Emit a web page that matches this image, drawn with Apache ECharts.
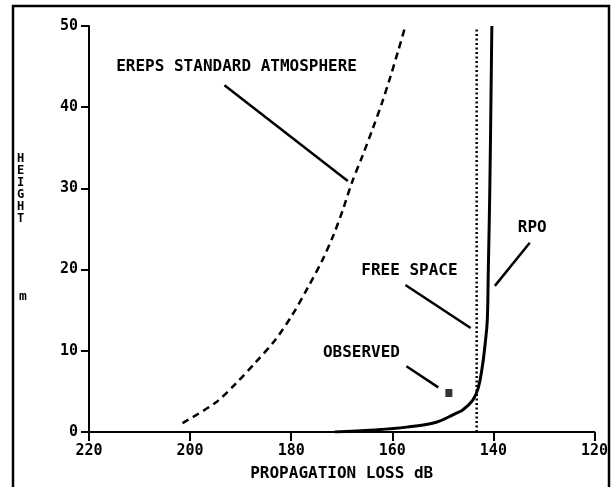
<!DOCTYPE html>
<html>
<head>
<meta charset="utf-8">
<script src="https://cdn.jsdelivr.net/npm/echarts@6/dist/echarts.min.js"></script>
<style>html,body{margin:0;padding:0;background:#fff}#c{width:611px;height:487px}</style>
</head>
<body>
<div id="c"></div>
<script>
// ---- data (x = propagation loss dB, y = height m) ----
const xTicks = [220, 200, 180, 160, 140, 120];
const yTicks = [0, 10, 20, 30, 40, 50];

const erepsLoss   = [201.5, 195.0, 190.9, 187.0, 183.2, 179.8, 176.6, 173.8, 171.6, 169.7, 168.0, 165.9, 163.9, 162.0, 160.3, 158.8, 157.4];
const erepsHeight = [1.1,   3.6,   6.0,   8.6,   11.3,  14.4,  17.9,  21.2,  24.3,  27.5,  30.7,  34.0,  37.3,  40.6,  43.9,  47.0,  50.0];

const rpoLoss   = [171.4, 163.6, 157.2, 151.3, 147.4, 146.1, 144.1, 143.0, 142.2, 141.6, 141.2, 141.0, 140.7, 140.3];
const rpoHeight = [0,     0.25,  0.6,   1.2,   2.3,   2.7,   3.9,   5.4,   8.0,   11.0,  13.8,  20.0,  30.0,  50.0];

const freeSpaceLoss   = [143.3, 143.3];
const freeSpaceHeight = [0, 49.8];

const observedLoss   = [148.8];
const observedHeight = [4.8];

// annotations: [text, loss, height] and leaders [loss1,h1,loss2,h2]
const noteTexts = ['EREPS STANDARD ATMOSPHERE', 'RPO', 'FREE SPACE', 'OBSERVED'];
const noteAt    = [[190.8, 44.95], [132.3, 25.1], [156.6, 19.8], [166.1, 9.7]];
const leaders   = [[193.2, 42.7, 168.8, 30.9], [132.8, 23.3, 139.7, 18.0], [157.4, 18.1, 144.5, 12.8], [157.2, 8.1, 150.9, 5.5]];

const zip = (a, b) => a.map((v, i) => [v, b[i]]);
const FONT = 'DejaVu Sans Mono';

const chart = echarts.init(document.getElementById('c'), null, {renderer: 'canvas'});
chart.setOption({
  animation: false,
  backgroundColor: '#ffffff',
  grid: {left: 89, right: 7, top: 26, bottom: 55, containLabel: false},
  xAxis: {
    type: 'value', inverse: true, min: 120, max: 220, interval: 20,
    name: 'PROPAGATION LOSS dB', nameLocation: 'middle', nameGap: 34,
    nameTextStyle: {color: '#000', fontFamily: FONT, fontWeight: 'bold', fontSize: 16},
    axisLine: {show: true, lineStyle: {color: '#000', width: 2}},
    axisTick: {show: true, inside: false, length: 9, lineStyle: {color: '#000', width: 2}},
    axisLabel: {color: '#000', fontFamily: FONT, fontWeight: 'bold', fontSize: 15, margin: 12,
      formatter: v => xTicks.includes(v) ? String(v) : ''},
    splitLine: {show: false}
  },
  yAxis: {
    type: 'value', min: 0, max: 50, interval: 10,
    axisLine: {show: true, lineStyle: {color: '#000', width: 2}},
    axisTick: {show: true, length: 8, lineStyle: {color: '#000', width: 2}},
    axisLabel: {color: '#000', fontFamily: FONT, fontWeight: 'bold', fontSize: 15, margin: 11,
      formatter: v => yTicks.includes(v) ? String(v) : ''},
    splitLine: {show: false}
  },
  series: [
    {type: 'line', data: zip(erepsLoss, erepsHeight), smooth: 0.3, symbol: 'none',
     lineStyle: {color: '#000', width: 2.5, type: [7, 5]}},
    {type: 'line', data: zip(rpoLoss, rpoHeight), smooth: 0.4, symbol: 'none',
     lineStyle: {color: '#000', width: 3}},
    {type: 'line', data: zip(freeSpaceLoss, freeSpaceHeight), symbol: 'none',
     lineStyle: {color: '#000', width: 2.5, type: [2, 2.5]}},
    {type: 'scatter', data: zip(observedLoss, observedHeight), symbol: 'rect', symbolSize: [7, 8],
     itemStyle: {color: '#000'}}
  ]
});

const px = (x, y) => chart.convertToPixel({gridIndex: 0}, [x, y]);
const g = [];
// outer frame
g.push({type: 'rect', shape: {x: 13, y: 6, width: 596, height: 600},
  style: {fill: 'none', stroke: '#000', lineWidth: 2.5}, silent: true});
// y axis title
g.push({type: 'text', left: 17, top: 153, style: {text: 'H\nE\nI\nG\nH\nT', fill: '#000',
  font: 'bold 12px "' + FONT + '"', lineHeight: 12, align: 'center'}});
g.push({type: 'text', left: 19, top: 290, style: {text: 'm', fill: '#000',
  font: 'bold 13px "' + FONT + '"'}});
noteTexts.forEach((t, i) => {
  const p = px(noteAt[i][0], noteAt[i][1]);
  g.push({type: 'text', x: p[0], y: p[1], style: {text: t, fill: '#000',
    font: 'bold 16px "' + FONT + '"', textAlign: 'center', textVerticalAlign: 'middle'}});
});
leaders.forEach(l => {
  const a = px(l[0], l[1]), b = px(l[2], l[3]);
  g.push({type: 'line', shape: {x1: a[0], y1: a[1], x2: b[0], y2: b[1]},
    style: {stroke: '#000', lineWidth: 2.5}});
});
chart.setOption({graphic: g});
</script>
</body>
</html>
